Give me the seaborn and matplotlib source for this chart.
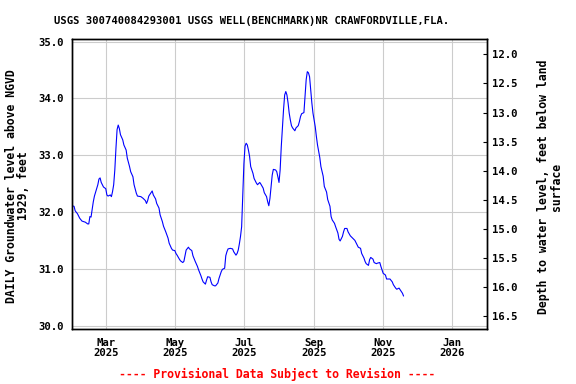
import matplotlib
matplotlib.use("Agg")
import matplotlib.pyplot as plt
import seaborn as sns
import pandas as pd

# ---- data ----
dates = [
    "2025-01-30", "2025-02-01", "2025-02-02", "2025-02-04", "2025-02-06", "2025-02-08",
    "2025-02-11", "2025-02-13", "2025-02-14", "2025-02-15", "2025-02-16", "2025-02-17",
    "2025-02-18", "2025-02-19", "2025-02-22", "2025-02-23", "2025-02-24", "2025-02-25",
    "2025-02-27", "2025-03-01", "2025-03-02", "2025-03-03", "2025-03-05", "2025-03-06",
    "2025-03-07", "2025-03-08", "2025-03-09", "2025-03-10", "2025-03-11", "2025-03-12",
    "2025-03-13", "2025-03-14", "2025-03-16", "2025-03-17", "2025-03-19", "2025-03-20",
    "2025-03-22", "2025-03-23", "2025-03-25", "2025-03-26", "2025-03-28", "2025-03-29",
    "2025-04-01", "2025-04-03", "2025-04-05", "2025-04-06", "2025-04-07", "2025-04-08",
    "2025-04-10", "2025-04-11", "2025-04-12", "2025-04-14", "2025-04-15", "2025-04-17",
    "2025-04-18", "2025-04-20", "2025-04-21", "2025-04-23", "2025-04-25", "2025-04-26",
    "2025-04-28", "2025-04-29", "2025-05-01", "2025-05-02", "2025-05-03", "2025-05-05",
    "2025-05-06", "2025-05-08", "2025-05-09", "2025-05-10", "2025-05-11", "2025-05-13",
    "2025-05-14", "2025-05-16", "2025-05-17", "2025-05-19", "2025-05-21", "2025-05-22",
    "2025-05-24", "2025-05-25", "2025-05-26", "2025-05-28", "2025-05-29", "2025-05-30",
    "2025-06-01", "2025-06-02", "2025-06-03", "2025-06-05", "2025-06-06", "2025-06-08",
    "2025-06-09", "2025-06-11", "2025-06-12", "2025-06-14", "2025-06-15", "2025-06-16",
    "2025-06-17", "2025-06-19", "2025-06-21", "2025-06-22", "2025-06-24", "2025-06-25",
    "2025-06-26", "2025-06-27", "2025-06-28", "2025-06-29", "2025-06-30", "2025-07-01",
    "2025-07-02", "2025-07-03", "2025-07-04", "2025-07-05", "2025-07-06", "2025-07-07",
    "2025-07-09", "2025-07-10", "2025-07-12", "2025-07-13", "2025-07-15", "2025-07-16",
    "2025-07-18", "2025-07-19", "2025-07-21", "2025-07-22", "2025-07-23", "2025-07-24",
    "2025-07-25", "2025-07-26", "2025-07-27", "2025-07-29", "2025-07-30", "2025-07-31",
    "2025-08-01", "2025-08-02", "2025-08-03", "2025-08-04", "2025-08-05", "2025-08-06",
    "2025-08-07", "2025-08-08", "2025-08-09", "2025-08-10", "2025-08-11", "2025-08-12",
    "2025-08-13", "2025-08-15", "2025-08-16", "2025-08-17", "2025-08-18", "2025-08-19",
    "2025-08-20", "2025-08-21", "2025-08-23", "2025-08-24", "2025-08-25", "2025-08-26",
    "2025-08-27", "2025-08-28", "2025-08-29", "2025-08-30", "2025-08-31", "2025-09-02",
    "2025-09-03", "2025-09-04", "2025-09-06", "2025-09-07", "2025-09-09", "2025-09-10",
    "2025-09-12", "2025-09-13", "2025-09-15", "2025-09-16", "2025-09-17", "2025-09-19",
    "2025-09-20", "2025-09-22", "2025-09-23", "2025-09-24", "2025-09-26", "2025-09-27",
    "2025-09-28", "2025-09-30", "2025-10-01", "2025-10-03", "2025-10-04", "2025-10-06",
    "2025-10-07", "2025-10-09", "2025-10-10", "2025-10-12", "2025-10-13", "2025-10-15",
    "2025-10-16", "2025-10-17", "2025-10-19", "2025-10-20", "2025-10-21", "2025-10-23",
    "2025-10-24", "2025-10-26", "2025-10-27", "2025-10-29", "2025-10-30", "2025-10-31",
    "2025-11-01", "2025-11-03", "2025-11-04", "2025-11-06", "2025-11-07", "2025-11-09",
    "2025-11-10", "2025-11-12", "2025-11-13", "2025-11-15", "2025-11-16", "2025-11-18",
    "2025-11-19",
]
levels = [
    32.11, 32.10, 32.02, 31.97, 31.89, 31.84,
    31.82, 31.79, 31.79, 31.92, 31.91, 32.04,
    32.18, 32.28, 32.48, 32.58, 32.60, 32.52,
    32.44, 32.41, 32.30, 32.28, 32.30, 32.27,
    32.36, 32.48, 32.74, 33.12, 33.45, 33.53,
    33.47, 33.36, 33.27, 33.18, 33.09, 32.95,
    32.80, 32.71, 32.62, 32.48, 32.33, 32.28,
    32.27, 32.24, 32.20, 32.15, 32.20, 32.28,
    32.34, 32.37, 32.30, 32.23, 32.15, 32.07,
    31.95, 31.83, 31.75, 31.65, 31.54, 31.45,
    31.36, 31.33, 31.32, 31.27, 31.24, 31.17,
    31.14, 31.11, 31.13, 31.23, 31.33, 31.38,
    31.35, 31.32, 31.23, 31.13, 31.04, 30.98,
    30.88, 30.82, 30.77, 30.73, 30.80, 30.86,
    30.85, 30.77, 30.72, 30.70, 30.70, 30.75,
    30.83, 30.95, 30.99, 31.01, 31.23, 31.30,
    31.35, 31.36, 31.35, 31.30, 31.24, 31.27,
    31.33, 31.44, 31.57, 31.74, 32.30, 32.85,
    33.16, 33.21, 33.18, 33.09, 32.98, 32.80,
    32.68, 32.59, 32.51, 32.48, 32.52, 32.49,
    32.42, 32.34, 32.27, 32.18, 32.11, 32.24,
    32.45, 32.65, 32.75, 32.74, 32.71, 32.62,
    32.52, 32.74, 33.15, 33.48, 33.80, 34.06,
    34.12, 34.06, 33.92, 33.74, 33.62, 33.52,
    33.48, 33.43, 33.48, 33.50, 33.52, 33.59,
    33.68, 33.73, 33.75, 34.03, 34.33, 34.47,
    34.45, 34.38, 34.15, 33.92, 33.74, 33.50,
    33.33, 33.18, 32.96, 32.80, 32.63, 32.45,
    32.35, 32.22, 32.10, 31.92, 31.86, 31.80,
    31.74, 31.63, 31.52, 31.49, 31.57, 31.65,
    31.71, 31.71, 31.65, 31.58, 31.56, 31.52,
    31.50, 31.42, 31.38, 31.36, 31.27, 31.19,
    31.13, 31.09, 31.06, 31.16, 31.20, 31.17,
    31.11, 31.09, 31.10, 31.11, 31.04, 30.98,
    30.92, 30.89, 30.82, 30.82, 30.82, 30.77,
    30.72, 30.66, 30.64, 30.66, 30.63, 30.57,
    30.52,
]
xtick_dates = ["2025-03-01", "2025-05-01", "2025-07-01", "2025-09-01", "2025-11-01", "2026-01-01"]
xtick_labels = ["Mar\n2025", "May\n2025", "Jul\n2025", "Sep\n2025", "Nov\n2025", "Jan\n2026"]
left_ticks = [30.0, 31.0, 32.0, 33.0, 34.0, 35.0]
right_ticks = [12.0, 12.5, 13.0, 13.5, 14.0, 14.5, 15.0, 15.5, 16.0, 16.5]

title = "USGS 300740084293001 USGS WELL(BENCHMARK)NR CRAWFORDVILLE,FLA."
left_label = "DAILY Groundwater level above NGVD\n1929, feet"
right_label = "Depth to water level, feet below land\nsurface"
footer = "---- Provisional Data Subject to Revision ----"

# ---- style ----
sns.set_theme(style="white")
plt.rcParams["font.family"] = ["DejaVu Sans Mono"]
plt.rcParams["font.weight"] = "bold"

W, H = 576, 384
fig = plt.figure(figsize=(W / 100, H / 100), dpi=100)
fig.patch.set_facecolor("white")
L, R, T, B = 71.5, 486.7, 39.3, 329.0
ax = fig.add_axes([L / W, 1 - B / H, (R - L) / W, (B - T) / H])
ax.set_facecolor("white")

df = pd.DataFrame({"date": pd.to_datetime(dates), "level": levels})
sns.lineplot(data=df, x="date", y="level", ax=ax, color="#0000FF", linewidth=0.8)

ax.set_xlim(pd.Timestamp("2025-01-29 18:00"), pd.Timestamp("2026-01-31 10:00"))
ax.set_ylim(29.94, 35.04)
ax.set_yticks(left_ticks)
ax.set_yticklabels([f"{v:.1f}" for v in left_ticks])
ax.set_xticks(pd.to_datetime(xtick_dates))
ax.set_xticklabels(xtick_labels, linespacing=0.95)
ax.grid(True, color="#CCCCCC", linewidth=0.8)
ax.set_axisbelow(True)
ax.tick_params(axis="y", length=0, labelsize=7.7, pad=5.5, colors="black")
ax.tick_params(axis="x", length=0, labelsize=7.7, pad=6.5, colors="black")
ax.set_xlabel("")
ax.set_ylabel("")
for s in ax.spines.values():
    s.set_color("black")
    s.set_linewidth(1.0)

ax2 = ax.twinx()
ax2.set_ylim(16.72, 11.742)
ax2.set_yticks(right_ticks)
ax2.set_yticklabels([f"{v:.1f}" for v in right_ticks])
ax2.tick_params(axis="y", which="both", right=True, left=False, direction="in",
                length=3, width=0.8, color="black", labelsize=7.7, pad=4, labelcolor="black")
ax2.grid(False)
for s in ax2.spines.values():
    s.set_color("black")
    s.set_linewidth(1.0)

fig.text(251.5 / W, 1 - 20.7 / H, title, ha="center", va="center", fontsize=7.6,
         fontweight="bold", color="black")
fig.text(17.5 / W, 1 - 186 / H, left_label, rotation=90, ha="center", va="center",
         multialignment="center", fontsize=8.3, fontweight="bold", linespacing=0.95,
         color="black")
fig.text(550 / W, 1 - 187 / H, right_label, rotation=90, ha="center", va="center",
         multialignment="center", fontsize=8.3, fontweight="bold", linespacing=0.95,
         color="black")
fig.text(277.5 / W, 1 - 374.3 / H, footer, ha="center", va="center", fontsize=8.3,
         fontweight="bold", color="#FF0000")

fig.savefig("out.png", dpi=100, facecolor="white")
